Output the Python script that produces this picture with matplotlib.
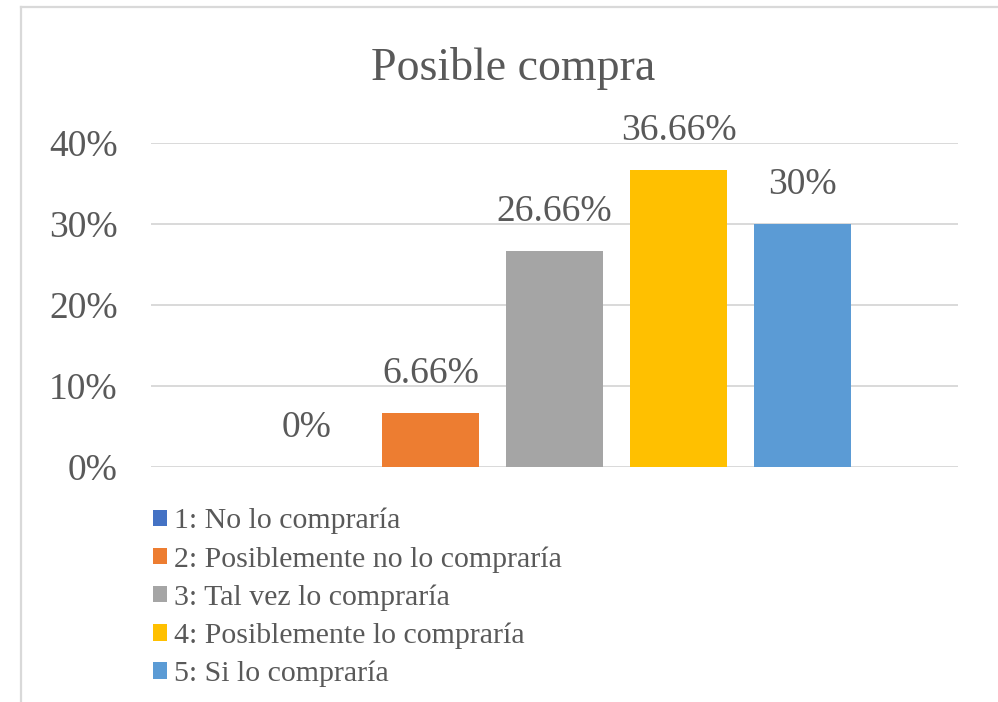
import matplotlib.pyplot as plt
from matplotlib.patches import Patch
from matplotlib.lines import Line2D

plt.rcParams['font.family'] = ['Liberation Serif', 'DejaVu Serif']

# survey answers and their share of respondents (%)
answers = ['1: No lo compraría',
           '2: Posiblemente no lo compraría',
           '3: Tal vez lo compraría',
           '4: Posiblemente lo compraría',
           '5: Si lo compraría']
shares = [0, 6.66, 26.66, 36.66, 30]
yticks = [0, 10, 20, 30, 40]
colors = ['#4472C4', '#ED7D31', '#A5A5A5', '#FFC000', '#5B9BD5']
text_color = '#595959'
grid_color = '#D9D9D9'

W, H = 998, 702
fig = plt.figure(figsize=(W / 100, H / 100), dpi=100)

# chart frame: left and top edges
fx, fy = 21 / W, 1 - 7 / H
fig.add_artist(Line2D([fx, fx], [0, fy], transform=fig.transFigure,
                      color=grid_color, linewidth=1.6))
fig.add_artist(Line2D([fx, 1], [fy, fy], transform=fig.transFigure,
                      color=grid_color, linewidth=1.6))

ax = fig.add_axes([151 / W, 235 / H, 807 / W, 324 / H])
x = range(len(shares))
ax.bar(x, shares, width=0.78, color=colors, zorder=3)
ax.set_xlim(-1.255, len(shares) - 1 + 1.255)
ax.set_ylim(0, 40)

for xi, v in zip(x, shares):
    ax.annotate(f'{v:g}%', (xi, v), xytext=(0, 28), textcoords='offset points',
                ha='center', va='center', fontsize=27, color=text_color)

ax.set_yticks(yticks)
ax.set_yticklabels([f'{t}%' for t in yticks])
ax.set_xticks([])
ax.tick_params(axis='y', length=0, pad=24, labelsize=27, labelcolor=text_color)
ax.yaxis.grid(True, color=grid_color, linewidth=1.4, zorder=0)
for s in ax.spines.values():
    s.set_visible(False)

fig.text(513 / W, 1 - 68 / H, 'Posible compra', ha='center', va='center',
         fontsize=33, color=text_color)

handles = [Patch(facecolor=c, edgecolor='none') for c in colors]
fig.legend(handles, answers, loc='upper left',
           bbox_to_anchor=(153 / W, 1 - 508 / H), frameon=False,
           fontsize=21.5, labelcolor=text_color, handlelength=0.48,
           handleheight=0.48, handletextpad=0.22, labelspacing=0.39,
           borderaxespad=0, borderpad=0)

fig.savefig('out.png', dpi=100)
